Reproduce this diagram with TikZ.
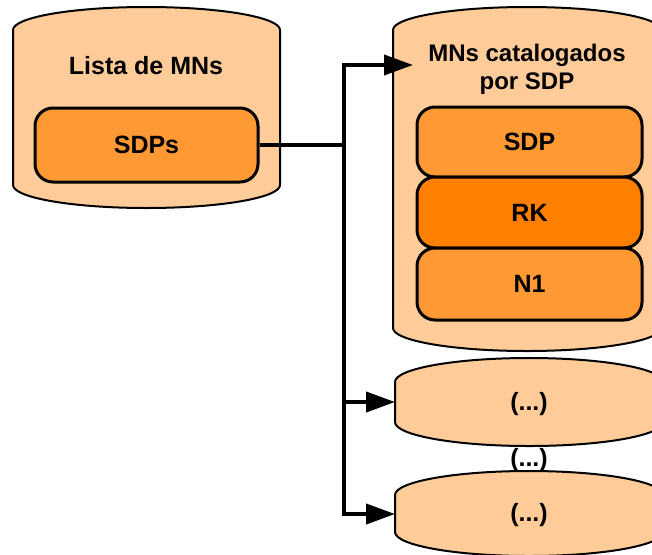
\documentclass[tikz,border=0pt]{standalone}
\usepackage{fontspec}
\setmainfont{Liberation Sans}
\usetikzlibrary{arrows.meta}
\definecolor{light}{HTML}{FFCC99}
\definecolor{mid}{HTML}{FF9933}
\definecolor{deep}{HTML}{FF8000}
\newcommand\drawcan[6]{%
  \draw[canstyle,fill=#6] (#1,-#3)
    arc[start angle=180,end angle=0,x radius={(#2-#1)/2},y radius=#5]
    -- (#2,-#4)
    arc[start angle=0,end angle=-180,x radius={(#2-#1)/2},y radius=#5]
    -- cycle;}
\begin{document}
\begin{tikzpicture}[x=1pt,y=1pt,
  font=\fontsize{25}{28}\selectfont\bfseries,
  canstyle/.style={draw=black,line width=2pt},
  boxstyle/.style={draw=black,line width=3pt,rounded corners=18pt,
    minimum width=223pt,inner sep=0pt},
  conn/.style={line width=4pt,line join=miter},
  tip/.style={-{Triangle[length=29pt,width=20pt]}}]
\useasboundingbox (0,0) rectangle (652,-554);
\clip (0,0) rectangle (652,-554);
% cylinders
\drawcan{13}{280}{30}{185}{23}{light}
\drawcan{393}{661}{30}{328}{23}{light}
% left box
\node[boxstyle,fill=mid,minimum height=74pt] (sdps) at (146.5,-145) {SDPs};
% right boxes
\node[boxstyle,fill=mid,minimum width=225pt,minimum height=70pt] (sdp) at (529.5,-142) {SDP};
\node[boxstyle,fill=deep,minimum width=225pt,minimum height=71pt] (rk) at (529.5,-212.5) {RK};
\node[boxstyle,fill=mid,minimum width=225pt,minimum height=72pt] (n1) at (529.5,-284) {N1};
% disks
\drawcan{395}{663}{382}{422}{24}{light}
\node (e2) at (529,-460) {(...)};
\drawcan{395}{663}{495}{532}{24}{light}
% labels
\node (lista) at (146,-66) {Lista de MNs};
\node[align=center,font=\fontsize{24}{28}\selectfont\bfseries] (cat) at (527,-69) {MNs catalogados\\por SDP};
\node (e1) at (529,-404) {(...)};
\node (e3) at (529,-515) {(...)};
% connectors
\coordinate (j) at (343.5,-145);
\coordinate (t1) at (413,-65);
\coordinate (t2) at (395,-402);
\coordinate (t3) at (395,-514);
\draw[conn] (sdps.east) -- (j);
\draw[conn,tip] (j) |- (t1);
\draw[conn,tip] (j) |- (t2);
\draw[conn,tip] (j) |- (t3);
\end{tikzpicture}
\end{document}
